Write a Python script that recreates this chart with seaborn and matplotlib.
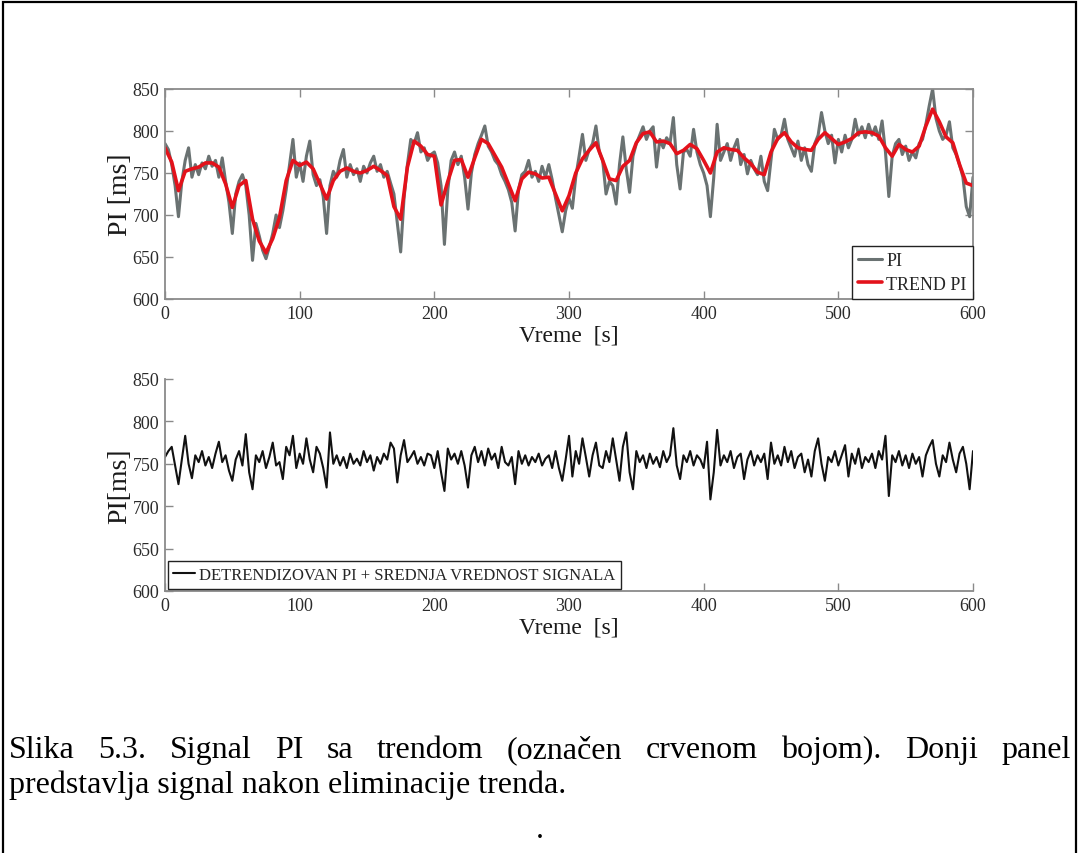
import numpy as np
import matplotlib
matplotlib.use("Agg")
import matplotlib.pyplot as plt
import seaborn as sns
from matplotlib.patches import Rectangle

# ---------------- data ----------------
# raw PI signal, sampled every 2.5 s from 0 to 600 s
pi_ms = [
    785, 778, 760, 735, 698, 740, 765, 780, 745, 760, 748, 762, 755, 770, 758, 765,
    745, 768, 740, 715, 678, 725, 740, 748, 735, 700, 646, 690, 675, 658, 648, 662,
    678, 700, 685, 705, 730, 760, 790, 745, 762, 740, 770, 788, 748, 735, 742, 722,
    678, 735, 752, 745, 765, 778, 745, 760, 748, 755, 740, 758, 750, 762, 770, 752,
    760, 745, 752, 738, 725, 690, 656, 720, 760, 790, 785, 798, 775, 780, 765, 772,
    775, 762, 735, 665, 730, 765, 775, 760, 770, 745, 707, 750, 772, 785, 795, 806,
    782, 775, 765, 760, 748, 740, 730, 715, 681, 730, 748, 752, 765, 745, 752, 740,
    758, 745, 760, 742, 720, 700, 680, 705, 720, 708, 745, 770, 796, 765, 778, 785,
    806, 775, 765, 725, 740, 735, 713, 760, 793, 755, 727, 770, 785, 795, 805, 790,
    800, 805, 757, 790, 780, 792, 785, 816, 760, 731, 775, 778, 770, 802, 775, 760,
    750, 735, 698, 745, 808, 765, 775, 785, 765, 780, 790, 760, 772, 749, 765, 755,
    748, 770, 740, 729, 765, 802, 790, 795, 814, 790, 780, 770, 788, 765, 780, 760,
    752, 785, 795, 822, 800, 785, 795, 762, 790, 775, 795, 780, 790, 814, 795, 805,
    792, 808, 795, 805, 790, 812, 775, 722, 770, 785, 790, 772, 782, 765, 775, 768,
    785, 790, 808, 830, 850, 815, 800, 790, 795, 811, 780, 772, 760, 745, 710, 698,
    745,
]

# smoothed trend, sampled every 5 s from 0 to 600 s
trend_ms = [
    780, 763, 729, 752, 755, 757, 762, 762, 757, 737, 709, 735, 741, 695, 669, 655,
    672, 697, 741, 765, 759, 763, 755, 737, 719, 741, 752, 756, 752, 750, 753, 758,
    753, 747, 710, 695, 757, 788, 782, 772, 770, 712, 740, 765, 766, 745, 768, 790,
    785, 771, 757, 737, 717, 743, 751, 749, 744, 745, 725, 705, 723, 750, 767, 777,
    786, 765, 743, 741, 758, 765, 786, 797, 799, 787, 788, 785, 773, 777, 784, 779,
    765, 750, 775, 780, 778, 777, 768, 761, 751, 748, 775, 791, 798, 787, 780, 778,
    777, 790, 798, 791, 784, 787, 791, 798, 799, 798, 794, 780, 770, 784, 778, 775,
    782, 806, 826, 811, 793, 786, 760, 738, 735,
]

# detrended PI + mean value, sampled every 2.5 s from 0 to 600 s
detrended_ms = [
    758, 765, 770, 748, 726, 755, 783, 750, 733, 760, 752, 765, 748, 758, 745, 762,
    776, 752, 760, 742, 730, 755, 765, 748, 785, 740, 720, 760, 752, 765, 745, 758,
    775, 748, 752, 732, 770, 760, 783, 745, 762, 750, 780, 755, 740, 770, 762, 745,
    722, 787, 750, 760, 748, 758, 745, 762, 750, 756, 748, 765, 752, 760, 742, 758,
    750, 762, 755, 775, 768, 728, 760, 778, 752, 758, 765, 750, 758, 748, 762, 760,
    745, 765, 740, 718, 768, 755, 762, 750, 765, 748, 722, 760, 770, 752, 765, 748,
    768, 755, 762, 745, 770, 752, 748, 758, 726, 765, 750, 760, 748, 758, 752, 762,
    748, 756, 760, 745, 765, 745, 730, 755, 783, 735, 765, 750, 780, 758, 735, 760,
    775, 748, 745, 765, 752, 780, 755, 730, 770, 787, 740, 720, 765, 752, 760, 745,
    762, 750, 758, 746, 765, 752, 760, 792, 748, 732, 760, 752, 765, 748, 760, 755,
    745, 776, 708, 740, 790, 748, 760, 752, 765, 745, 758, 762, 732, 755, 765, 748,
    760, 752, 762, 732, 775, 750, 760, 748, 770, 752, 765, 745, 758, 762, 740, 755,
    735, 765, 780, 750, 730, 758, 752, 765, 748, 760, 772, 735, 762, 750, 768, 745,
    758, 752, 762, 745, 765, 755, 783, 712, 760, 752, 765, 748, 760, 745, 762, 750,
    758, 735, 760, 770, 778, 750, 735, 760, 752, 775, 755, 740, 762, 770, 750, 720,
    765,
]

x_ticks = [0, 100, 200, 300, 400, 500, 600]
y_ticks = [600, 650, 700, 750, 800, 850]
x_label = "Vreme  [s]"
y_label_top = "PI [ms]"
y_label_bottom = "PI[ms]"
legend_pi = "PI"
legend_trend = "TREND PI"
legend_detr = "DETRENDIZOVAN PI + SREDNJA VREDNOST SIGNALA"
caption_line1 = "Slika 5.3. Signal PI sa trendom (označen crvenom bojom). Donji panel"
caption_line2 = "predstavlja signal nakon eliminacije trenda."

# ---------------- style ----------------
sns.set_style("ticks")
plt.rcParams['font.family'] = ['Liberation Serif', 'DejaVu Serif']
plt.rcParams['axes.edgecolor'] = '#8a8a8a'
plt.rcParams['xtick.color'] = '#8a8a8a'
plt.rcParams['ytick.color'] = '#8a8a8a'
plt.rcParams['xtick.labelcolor'] = '#2a2a2a'
plt.rcParams['ytick.labelcolor'] = '#2a2a2a'

W, H = 1080, 854
fig = plt.figure(figsize=(W / 100, H / 100), dpi=100)
fig.patch.set_facecolor('white')

ax1 = fig.add_axes([165 / W, 1 - 300 / H, 808 / W, 210 / H])
ax2 = fig.add_axes([165 / W, 1 - 592 / H, 808 / W, 212 / H])

t_pi = np.linspace(0, 600, len(pi_ms))
t_tr = np.linspace(0, 600, len(trend_ms))
t_dt = np.linspace(0, 600, len(detrended_ms))

sns.lineplot(x=t_pi, y=pi_ms, ax=ax1, color='#6a7272', linewidth=2.2, label=legend_pi)
sns.lineplot(x=t_tr, y=trend_ms, ax=ax1, color='#e3121b', linewidth=2.6, label=legend_trend)
sns.lineplot(x=t_dt, y=detrended_ms, ax=ax2, color='#111111', linewidth=1.5, label=legend_detr)

for ax in (ax1, ax2):
    ax.set_xlim(0, 600)
    ax.set_ylim(600, 850)
    ax.set_xticks(x_ticks)
    ax.set_yticks(y_ticks)
    ax.tick_params(direction='in', length=6, width=1, labelsize=13, pad=4)
    ax.set_xlabel(x_label, fontsize=17, labelpad=2, color='#1a1a1a')
    for s in ax.spines.values():
        s.set_linewidth(1.3)

ax1.tick_params(top=True, right=True)
ax1.set_ylabel(y_label_top, fontsize=20, labelpad=0, color='#1a1a1a')
ax2.set_ylabel(y_label_bottom, fontsize=20, labelpad=0, color='#1a1a1a')
sns.despine(ax=ax2)

leg1 = ax1.legend(loc='lower right', frameon=True, fancybox=False, edgecolor='#222222',
                  borderaxespad=0, handlelength=1.3, handletextpad=0.25, fontsize=13,
                  labelspacing=0.35, borderpad=0.35, framealpha=1)
leg1.get_frame().set_linewidth(1.0)
leg2 = ax2.legend(loc='lower left', frameon=True, fancybox=False, edgecolor='#222222',
                  borderaxespad=0.15, handlelength=1.3, handletextpad=0.25, fontsize=12,
                  borderpad=0.35, framealpha=1)
leg2.get_frame().set_linewidth(1.0)

# page border (scanned document frame)
fig.patches.append(Rectangle((3 / W, -0.1), 1073 / W, 1 - 3 / H + 0.1,
                             transform=fig.transFigure, fill=False,
                             edgecolor='black', linewidth=1.6))

# justified caption, line 1
cap_size = 23
fig.canvas.draw()
renderer = fig.canvas.get_renderer()
words = caption_line1.split()
texts = [fig.text(0, 1 - 758 / H, w, fontsize=cap_size, va='baseline', ha='left',
                  color='black') for w in words]
widths = [t.get_window_extent(renderer).width for t in texts]
left, right = 9, 1071
gap = (right - left - sum(widths)) / (len(words) - 1)
xpos = left
for t, w in zip(texts, widths):
    t.set_x(xpos / W)
    xpos += w + gap

fig.text(9 / W, 1 - 793 / H, caption_line2, fontsize=cap_size, va='baseline', ha='left',
         color='black')
fig.text(540 / W, 1 - 838 / H, ".", fontsize=cap_size, va='baseline', ha='center',
         color='black')

fig.savefig("out.png", dpi=100)
